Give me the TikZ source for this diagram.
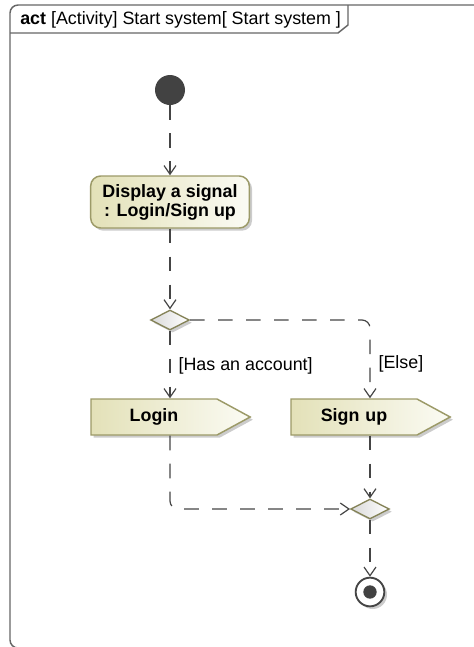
\documentclass[tikz,border=0pt]{standalone}
\usepackage{fontspec}
\setmainfont{Liberation Sans}
\usetikzlibrary{arrows.meta,shapes.geometric,shapes.symbols,shadows}
\definecolor{umlfill}{HTML}{E3E1B8}
\definecolor{umllight}{HTML}{FBFBF4}
\definecolor{umlborder}{HTML}{9C9A68}
\definecolor{umlline}{HTML}{454545}
\definecolor{umlframe}{HTML}{666666}
\definecolor{decfill}{HTML}{D9D9D9}
\newcommand{\umlfont}{\fontsize{13.4pt}{14.3pt}\selectfont}
\tikzset{>={Straight Barb[length=6.5pt,width=9pt]}}
\tikzset{
  flow/.style={->, draw=umlline, line width=0.9pt, dash pattern=on 11pt off 10pt},
  frameline/.style={draw=umlframe, line width=1.1pt},
  umlshadow/.style={drop shadow={shadow xshift=2pt, shadow yshift=-2pt, fill=black!40, opacity=0.5}},
  initnode/.style={circle, fill=umlline!95!black, minimum size=22.5pt, inner sep=0pt},
  finalnode/.style={circle, draw=umlline, line width=1.4pt, fill=white, minimum size=21.5pt,
    inner sep=0pt, umlshadow,
    path picture={\fill[umlline!95!black] (path picture bounding box.center) circle (5pt);}},
  actionbox/.style={rectangle, rounded corners=7.5pt, draw=umlborder, line width=1.1pt,
    left color=umlfill, right color=umllight, minimum width=119pt, minimum height=39pt,
    align=center, inner sep=2pt, font=\umlfont\bfseries, umlshadow},
  sendbox/.style={signal, signal to=east, signal pointer angle=57, draw=umlborder,
    line width=1.1pt, left color=umlfill, right color=umllight, text width=94.5pt,
    align=center, minimum height=27pt, inner xsep=0pt, inner ysep=0pt,
    font=\umlfont\bfseries, umlshadow},
  decnode/.style={diamond, draw=umlborder!85!black, line width=1pt, left color=decfill,
    right color=white, minimum width=29pt, minimum height=15pt, inner sep=0pt, umlshadow},
  guard/.style={font=\umlfont, inner sep=6pt}
}

\begin{document}
\begin{tikzpicture}[x=0.75pt,y=-0.75pt]
  \useasboundingbox (0,0) rectangle (474,647);
  % frame
  \begin{scope}
    \clip (0,0) rectangle (474,647);
    \draw[frameline, rounded corners=6pt] (10,648) -- (10,5) -- (484,5) -- (484,648) -- cycle;
  \end{scope}
  \draw[frameline] (10,33) -- (338,33) -- (348,25) -- (348,5);
  \node[anchor=west, font=\umlfont, inner sep=0pt] (title) at (20,20)
    {\textbf{act} [Activity] Start system[ Start system ]};

  \node[initnode] (init) at (170,90) {};
  \node[actionbox] (show) at (170,202) {Display a signal\\: Login/Sign up};
  \node[decnode] (dec) at (170,320) {};
  \node[sendbox] (login) at (154,417) {Login};
  \node[sendbox] (signup) at (354,417) {Sign up};
  \node[decnode] (merge) at (370,509) {};
  \node[finalnode] (final) at (370,592) {};

  \draw[flow] (init) -- (show);
  \draw[flow] (show) -- (dec);
  \draw[flow] (dec) -- (dec |- login.north)
    node[guard, pos=0.52, right] {[Has an account]};
  \draw[flow, rounded corners=6pt] (dec.east) -| (merge |- signup.north)
    node[guard, pos=0.78, right] {[Else]};
  \draw[flow, rounded corners=6pt] (dec |- login.south) |- (merge.west);
  \draw[flow] (merge |- signup.south) -- (merge);
  \draw[flow] (merge) -- (final);
\end{tikzpicture}
\end{document}
